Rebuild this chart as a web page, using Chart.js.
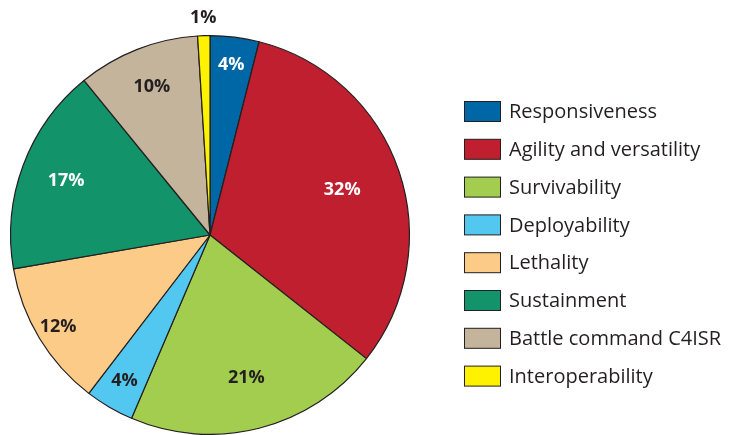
<!DOCTYPE html>
<html>
<head>
<meta charset="utf-8">
<script src="https://cdn.jsdelivr.net/npm/chart.js@4"></script>
<style>
  html, body { margin: 0; padding: 0; background: #fff; }
  #wrap { width: 732px; height: 435px; position: relative; }
</style>
</head>
<body>
<div id="wrap"><canvas id="pieChart" width="732" height="435"></canvas></div>
<script>
// categories and values (percent of total)
const categories = ["Responsiveness", "Agility and versatility", "Survivability", "Deployability",
                    "Lethality", "Sustainment", "Battle command C4ISR", "Interoperability"];
const shares = [4, 32, 21, 4, 12, 17, 10, 1];
const sliceColors = ["#0067a6", "#c01f2f", "#a2cd4e", "#52c8f1", "#fdcb88", "#13936a", "#c4b49b", "#fff200"];
// label text colour and distance from centre (fraction of radius)
const labelColors = ["#fff", "#fff", "#231f20", "#231f20", "#231f20", "#fff", "#231f20", "#231f20"];
const labelRadius = [0.86, 0.70, 0.74, 0.85, 0.89, 0.77, 0.80, 1.09];

const ink = "#231f20";

// slice percentage labels
const sliceLabels = {
    id: "sliceLabels",
    afterDatasetsDraw(chart) {
        const ctx = chart.ctx;
        const meta = chart.getDatasetMeta(0);
        ctx.save();
        ctx.font = "bold 18px 'Open Sans', sans-serif";
        ctx.textAlign = "center";
        ctx.textBaseline = "middle";
        meta.data.forEach((arc, i) => {
            const mid = (arc.startAngle + arc.endAngle) / 2;
            const r = arc.outerRadius * labelRadius[i];
            ctx.fillStyle = labelColors[i];
            ctx.fillText(shares[i] + "%", arc.x + Math.cos(mid) * r, arc.y + Math.sin(mid) * r);
        });
        ctx.restore();
    }
};

// legend on the right
const sideLegend = {
    id: "sideLegend",
    afterDraw(chart) {
        const ctx = chart.ctx;
        ctx.save();
        ctx.font = "20px 'Open Sans', sans-serif";
        ctx.textBaseline = "middle";
        categories.forEach((name, i) => {
            const y = 111.5 + i * 37.8;
            ctx.fillStyle = sliceColors[i];
            ctx.fillRect(464.5, y - 10, 36, 20);
            ctx.strokeStyle = ink;
            ctx.lineWidth = 1;
            ctx.strokeRect(464.5, y - 10, 36, 20);
            ctx.fillStyle = ink;
            ctx.fillText(name, 509, y + 1);
        });
        ctx.restore();
    }
};

const ctx = document.getElementById("pieChart").getContext("2d");
const myChart = new Chart(ctx, {
    type: "pie",
    data: {
        labels: categories,
        datasets: [{
            data: shares,
            backgroundColor: sliceColors,
            borderColor: ink,
            borderWidth: 1.2,
        }],
    },
    options: {
        responsive: false,
        animation: false,
        layout: { padding: { left: 10, right: 322, top: 35, bottom: 0 } },
        plugins: {
            legend: { display: false },
            tooltip: { enabled: false },
        },
    },
    plugins: [sliceLabels, sideLegend],
});
</script>
</body>
</html>
